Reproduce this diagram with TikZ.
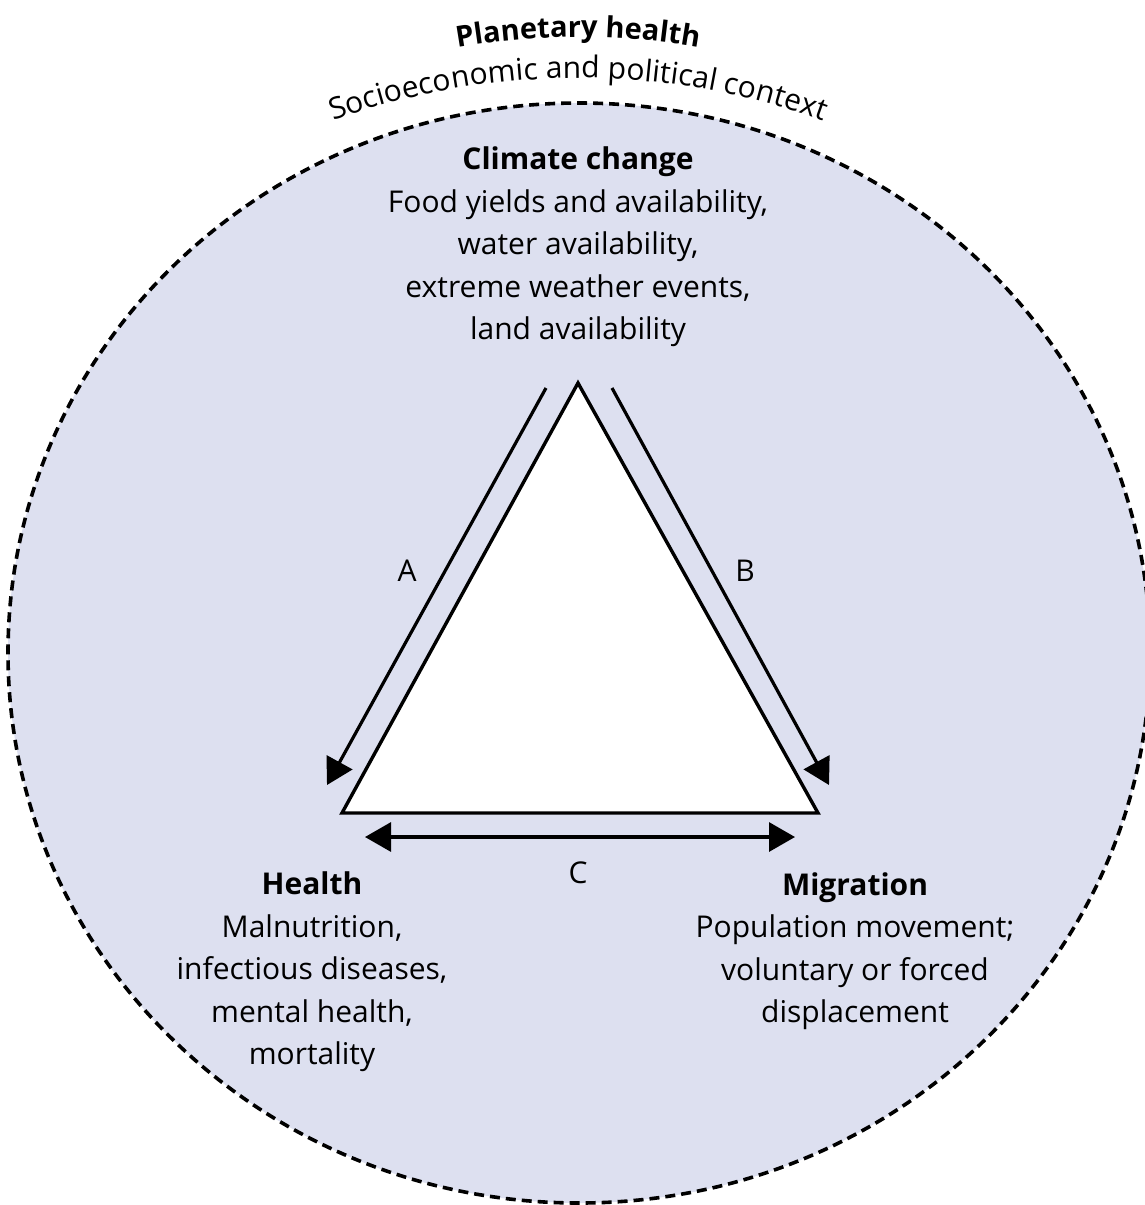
\documentclass[tikz,border=0pt]{standalone}
\usepackage{fontspec}
\setmainfont{Open Sans}
\usepackage{xcolor}
\usepackage{tikz}
\usetikzlibrary{arrows.meta, decorations.text}
\definecolor{contextfill}{RGB}{221,224,240}
\tikzset{
  contextring/.style={draw=black, fill=contextfill, line width=3.6pt, dash pattern=on 10pt off 6pt},
  corebox/.style={draw=black, fill=white, line width=3.4pt, line join=miter},
  linkarrow/.style={line width=3.2pt, -{Triangle[length=26pt, width=29pt]}},
  botharrow/.style={line width=3.2pt, {Triangle[length=26pt, width=29pt]}-{Triangle[length=26pt, width=29pt]}},
  blocktext/.style={align=center, inner sep=0pt, font=\fontsize{30}{42.5}\selectfont},
  linklabel/.style={inner sep=0pt, font=\fontsize{30}{36}\selectfont}
}

\begin{document}
\begin{tikzpicture}[x=1pt, y=-1pt]

\useasboundingbox (0,0) rectangle (1145,1205);

% Outer context (planetary health)
\draw[contextring] (579,653) ellipse [x radius=571, y radius=550];

% Curved headings above the ring
\path[decorate, decoration={text along path, text align=center,
      text={|\fontsize{29}{29}\selectfont\bfseries|Planetary health}}]
  (578,737) ++(250:700) arc [start angle=250, end angle=290, radius=700];
\path[decorate, decoration={text along path, text align=center,
      text={|\fontsize{30}{30}\selectfont|Socioeconomic and political context}}]
  (578,798) ++(236:720) arc [start angle=236, end angle=304, radius=720];

% Core triangle
\coordinate (apex) at (578,383);
\coordinate (leftc) at (342,813);
\coordinate (rightc) at (818,813);
\draw[corebox] (apex) -- (leftc) -- (rightc) -- cycle;

% Links between the three corners
\coordinate (aTail) at (546,388);
\coordinate (aTip) at (327,785);
\coordinate (bTail) at (612,388);
\coordinate (bTip) at (829,785);
\coordinate (cLeft) at (365,837);
\coordinate (cRight) at (795,837);
\draw[linkarrow] (aTail) -- (aTip);
\draw[linkarrow] (bTail) -- (bTip);
\draw[botharrow] (cLeft) -- (cRight);

\node[linklabel] (labA) at (407,571) {A};
\node[linklabel] (labB) at (745,571) {B};
\node[linklabel] (labC) at (578,873) {C};

% Corner texts
\node[blocktext] (climate) at (578,247) {\textbf{Climate change}\\Food yields and availability,\\water availability,\\extreme weather events,\\land availability};
\node[blocktext] (health) at (312,972) {\textbf{Health}\\Malnutrition,\\infectious diseases,\\mental health,\\mortality};
\node[blocktext] (migration) at (855,951) {\textbf{Migration}\\Population movement;\\voluntary or forced\\displacement};

\end{tikzpicture}
\end{document}
